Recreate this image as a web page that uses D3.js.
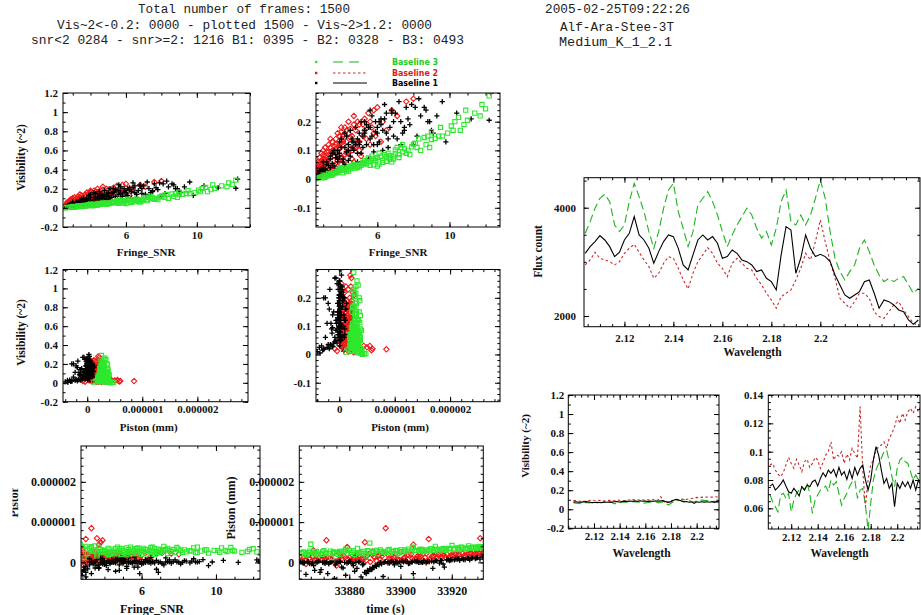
<!DOCTYPE html>
<html><head><meta charset="utf-8">
<script src="https://cdn.jsdelivr.net/npm/d3@7"></script>
<style>body{margin:0;background:#fff;}svg{display:block;}</style>
</head><body><svg id="c" width="921" height="615"></svg>
<script>
// ---------------- DATA ----------------
const headerLeft = [
  "Total number of frames: 1500",
  "Vis~2<-0.2: 0000 - plotted 1500 - Vis~2>1.2: 0000",
  "snr<2 0284 - snr>=2: 1216 B1: 0395 - B2: 0328 - B3: 0493"
];
const headerRight = ["2005-02-25T09:22:26", "Alf-Ara-Stee-3T", "Medium_K_1_2.1"];
const legendLabels = ["Baseline 3", "Baseline 2", "Baseline 1"];

// spectral channels (micron)
const wave = [2.104,2.106,2.108,2.110,2.112,2.114,2.116,2.118,2.120,2.122,2.124,2.126,2.128,2.130,2.132,2.134,2.136,2.138,2.140,2.142,2.144,2.146,2.148,2.150,2.152,2.154,2.156,2.158,2.160,2.162,2.164,2.166,2.168,2.170,2.172,2.174,2.176,2.178,2.180,2.182,2.184,2.186,2.188,2.190,2.192,2.194,2.196,2.198,2.200,2.202,2.204,2.206,2.208,2.210,2.212,2.214,2.216,2.218,2.220,2.222,2.224,2.226,2.228,2.230,2.232,2.234,2.236,2.238,2.240];
const fluxB1 = [3158,3281,3374,3484,3404,3281,3097,3177,3404,3527,3835,3497,3404,3250,2974,3189,3374,3497,3466,3250,2943,2850,3128,3404,3497,3404,3466,3343,3066,3097,3220,3158,3035,3004,2943,2820,2850,2697,2635,2481,3128,3650,3589,2789,3066,3497,3250,3097,3140,3097,3004,2758,2574,2389,2327,2389,2451,2635,2666,2420,2143,2297,2266,2204,2112,2081,1927,1847,1927];
const fluxB2 = [2943,3035,3177,3066,3035,3004,2943,3004,3158,3250,3324,3177,3035,2912,2697,2789,2974,3097,3066,2881,2666,2500,2789,3004,3128,3263,3158,2974,2881,2727,2974,3066,2974,2881,2850,2697,2574,2420,2297,2143,2358,2420,2481,2666,2881,3158,3035,3374,3774,3374,3004,2697,2327,2235,2143,2266,2420,2420,2327,2081,1989,1958,2081,2204,2266,2112,1989,1866,1835];
const fluxB3 = [3527,3743,3989,4174,4247,4112,3681,3558,3681,4112,4451,4204,3927,3558,3250,3558,3989,4327,4451,3927,3620,3281,3558,4050,4174,4297,4112,3866,3558,3281,3497,3681,3835,3989,3866,3620,3435,3558,3312,3620,4112,4327,3743,3681,3866,3681,3866,4174,4512,4174,3558,3066,2820,2666,2820,2943,3250,3404,3189,2943,2758,2635,2697,2635,2697,2728,2574,2420,2512];
const visB1 = [0.0757,0.0771,0.0729,0.0748,0.0771,0.0800,0.0757,0.0717,0.0706,0.0741,0.0717,0.0687,0.0753,0.0729,0.0764,0.0753,0.0788,0.0800,0.0757,0.0811,0.0851,0.0823,0.0870,0.0847,0.0875,0.0823,0.0889,0.0835,0.0859,0.0804,0.0870,0.0811,0.0889,0.0835,0.0882,0.0906,0.0800,0.0729,0.0800,0.0941,0.1035,0.0976,0.0870,0.0776,0.0811,0.0741,0.0776,0.0611,0.0776,0.0741,0.0788,0.0753,0.0788,0.0741,0.0800,0.0729,0.0800,0.0764];
const visB2 = [0.0906,0.0917,0.0870,0.0842,0.0823,0.0851,0.0906,0.0960,0.0917,0.0882,0.0946,0.0906,0.0859,0.0929,0.0946,0.0889,0.0917,0.0960,0.0941,0.0882,0.0922,0.0976,0.1000,0.1070,0.0941,0.0976,0.0969,0.1000,0.0917,0.0983,0.0941,0.1023,0.0988,0.0953,0.1318,0.0870,0.0611,0.0800,0.0906,0.0941,0.1012,0.1035,0.1047,0.1070,0.1023,0.1094,0.1129,0.1176,0.1247,0.1200,0.1271,0.1223,0.1282,0.1306,0.1271,0.1318,0.1282,0.1329];
const visB3 = [0.0694,0.0647,0.0611,0.0576,0.0694,0.0706,0.0670,0.0706,0.0576,0.0658,0.0706,0.0729,0.0753,0.0729,0.0776,0.0706,0.0564,0.0658,0.0694,0.0729,0.0741,0.0757,0.0717,0.0800,0.0764,0.0788,0.0706,0.0623,0.0670,0.0706,0.0753,0.0788,0.0800,0.0670,0.0729,0.0741,0.0623,0.0447,0.0635,0.0800,0.0870,0.0917,0.0953,0.1000,0.1012,0.0929,0.0823,0.0753,0.0882,0.0941,0.0960,0.0929,0.0917,0.0859,0.0800,0.0835,0.0800,0.0823];

// frames: [time (s), fringe SNR, visibility^2, piston (units of 1e-6 mm)]
const framesB1 = [
[33861.0,3.2,0.030,0.01],[33862.0,5.5,0.070,-0.02],[33863.1,2.7,0.015,-0.30],[33864.0,4.4,0.120,0.02],[33865.2,7.1,0.140,-0.03],
[33866.1,3.6,0.045,-0.08],[33867.0,6.2,0.210,0.00],[33868.1,4.9,0.060,0.03],[33869.0,2.9,0.020,-0.18],[33870.2,8.6,0.250,-0.01],
[33871.1,5.0,0.160,0.01],[33872.0,3.9,0.090,-0.04],[33873.1,6.6,0.110,0.02],[33874.2,2.6,0.010,-0.40],[33875.0,4.6,0.130,-0.01],
[33876.1,9.1,0.160,0.02],[33877.0,5.8,0.095,-0.12],[33878.2,3.4,0.070,0.00],[33879.1,7.6,0.250,-0.02],[33880.0,4.2,0.050,0.03],
[33881.2,6.0,0.180,-0.03],[33882.1,2.8,0.025,-0.22],[33883.0,5.2,0.110,-0.15],[33884.1,8.0,0.120,0.01],[33885.2,3.7,0.085,-0.06],
[33886.0,6.9,0.200,-0.25],[33887.1,4.8,0.180,-0.20],[33888.0,3.1,0.035,-0.16],[33889.2,5.6,0.140,-0.12],[33890.1,9.6,0.270,-0.08],
[33891.0,4.0,0.110,-0.05],[33892.1,6.4,0.260,0.00],[33893.2,2.5,0.005,-0.35],[33894.0,7.4,0.160,0.02],[33895.1,5.3,0.200,-0.01],
[33896.0,3.5,0.055,0.01],[33897.2,11.2,0.210,0.00],[33898.1,4.5,0.080,0.02],[33899.0,6.1,0.130,-0.02],[33900.1,3.0,0.040,-0.10],
[33901.2,8.9,0.200,0.01],[33902.0,5.1,0.090,0.03],[33903.1,4.3,0.150,-0.03],[33904.2,7.0,0.230,0.01],[33905.0,2.7,0.018,-0.28],
[33906.1,5.9,0.165,0.02],[33907.0,3.8,0.060,0.00],[33908.2,9.8,0.130,0.01],[33909.1,4.7,0.100,0.04],[33910.0,6.7,0.180,-0.01],
[33911.2,3.3,0.048,0.02],[33912.1,12.3,0.300,0.03],[33913.0,5.4,0.120,0.01],[33914.1,8.3,0.280,0.04],[33915.2,4.1,0.070,-0.02],
[33916.0,6.3,0.100,0.05],[33917.1,2.9,0.028,-0.12],[33918.0,7.8,0.190,0.06],[33919.2,5.7,0.220,0.04],[33920.1,3.6,0.100,0.07],
[33921.0,12.2,0.205,0.06],[33922.2,4.6,0.140,0.08],[33923.1,6.8,0.240,0.05],[33924.0,3.2,0.060,0.09],[33925.2,9.3,0.220,0.07],
[33926.1,5.0,0.120,0.10],[33927.0,4.4,0.065,0.06],[33928.1,7.3,0.120,0.11],[33929.2,3.9,0.130,0.09],[33930.1,6.5,0.160,0.12],
[33931.0,2.6,0.012,0.08],[33932.0,5.6,0.180,0.13],
[33861.6,4.5,0.170,0.00],[33865.6,6.5,0.230,-0.02],[33868.6,3.0,0.060,-0.25],[33872.6,7.9,0.260,0.01],[33875.6,5.3,0.170,0.02],
[33878.6,2.8,0.030,-0.32],[33882.6,8.2,0.150,0.00],[33885.6,6.0,0.120,-0.04],[33888.6,4.2,0.160,-0.18],[33891.6,7.2,0.270,-0.06],
[33895.6,3.4,0.080,-0.02],[33898.6,9.0,0.170,0.01],[33902.6,5.6,0.240,0.02],[33905.6,4.0,0.140,0.03],[33908.6,6.9,0.150,0.00],
[33912.6,3.7,0.030,-0.15],[33915.6,10.4,0.230,0.05],[33918.6,5.1,0.200,0.06],[33922.6,8.8,0.200,0.09],[33927.6,4.9,0.090,0.10],
[33862.5,3.8,0.100,-0.01],[33863.6,6.1,0.200,0.02],[33864.5,5.0,0.130,-0.03],[33866.5,2.9,0.035,-0.20],[33867.5,7.5,0.180,0.01],
[33869.6,4.3,0.095,0.00],[33870.6,5.7,0.150,-0.02],[33871.6,3.3,0.020,-0.28],[33873.6,8.4,0.220,0.03],[33874.6,4.8,0.120,-0.06],
[33876.6,6.3,0.170,0.01],[33877.6,3.5,0.090,-0.14],[33879.6,5.4,0.190,0.00],[33880.6,7.7,0.210,0.02],[33881.6,4.1,0.060,-0.08],
[33883.6,6.6,0.140,0.01],[33884.6,3.0,0.025,-0.36],[33886.6,5.9,0.200,-0.28],[33887.6,4.6,0.110,-0.22],[33888.9,6.8,0.230,-0.17],
[33889.6,3.7,0.075,-0.13],[33890.6,5.2,0.150,-0.10],[33892.6,8.1,0.250,-0.04],[33893.6,4.4,0.100,0.00],[33896.6,6.0,0.160,0.02],
[33897.6,3.2,0.050,-0.06],[33899.6,7.3,0.200,0.01],[33900.6,4.9,0.140,0.03],[33903.6,5.8,0.120,-0.02],[33904.6,3.9,0.080,0.01],
[33906.6,8.7,0.240,0.03],[33907.6,5.5,0.180,0.00],[33910.6,4.2,0.110,0.02],[33913.6,6.4,0.210,0.04],[33916.6,3.4,0.040,-0.04],
[33919.6,7.5,0.170,0.06],[33921.6,4.7,0.130,0.08],[33924.6,6.2,0.190,0.07],[33926.6,3.8,0.070,0.10],[33929.6,5.3,0.160,0.11]];
const framesB2 = [
[33861.3,3.0,0.070,0.05],[33862.2,4.2,0.060,0.12],[33863.1,2.6,0.012,-0.04],[33864.2,5.6,0.120,0.18],[33865.1,3.4,0.110,0.02],
[33866.0,2.8,0.045,0.30],[33867.2,4.7,0.190,0.08],[33868.1,3.7,0.040,0.10],[33869.0,6.8,0.240,0.21],[33870.2,2.7,0.060,0.14],
[33871.1,3.9,0.030,0.55],[33872.0,5.1,0.080,0.04],[33873.2,3.2,0.095,0.07],[33874.1,4.4,0.160,0.24],[33875.0,2.9,0.020,-0.08],
[33876.2,7.6,0.270,0.22],[33877.1,3.5,0.130,0.09],[33878.0,4.0,0.050,0.15],[33879.2,2.6,0.015,0.38],[33880.1,5.9,0.150,0.12],
[33881.0,3.3,0.030,0.03],[33882.2,4.8,0.110,0.11],[33883.1,3.1,0.080,0.20],[33884.0,6.3,0.200,0.06],[33885.2,2.8,0.035,0.10],
[33886.1,3.8,0.025,0.50],[33887.0,4.5,0.175,0.17],[33888.2,3.0,0.055,0.01],[33889.1,5.3,0.210,0.27],[33890.0,3.6,0.100,0.12],
[33891.2,2.7,0.028,0.16],[33892.1,4.1,0.140,0.08],[33893.0,7.1,0.220,0.24],[33894.2,3.3,0.018,0.85],[33895.1,4.9,0.130,0.19],
[33896.0,2.9,0.065,0.05],[33897.2,3.9,0.120,0.13],[33898.1,5.7,0.180,0.22],[33899.0,3.4,0.075,0.07],[33900.2,2.6,0.008,0.26],
[33901.1,4.3,0.090,0.10],[33902.0,6.0,0.250,0.04],[33903.2,3.1,0.022,0.18],[33904.1,8.0,0.280,0.20],[33905.0,3.7,0.030,0.44],
[33906.2,4.6,0.070,0.09],[33907.1,2.8,0.050,0.12],[33908.0,5.4,0.140,0.15],[33909.2,3.5,0.045,0.03],[33910.1,4.0,0.165,0.22],
[33911.0,3.0,0.015,0.58],[33912.2,6.5,0.170,0.14],[33913.1,3.6,0.115,0.16],[33914.0,2.7,0.040,0.11],[33915.2,4.4,0.200,0.19],
[33916.1,3.2,0.060,0.13],[33917.0,5.0,0.100,0.17],[33918.2,3.9,0.150,0.20],[33919.1,2.9,0.090,0.14],[33920.0,4.7,0.060,0.18],
[33921.2,3.4,0.140,0.21],[33922.1,5.5,0.230,0.16],[33923.0,3.1,0.110,0.19],[33924.2,4.2,0.085,0.22],[33925.1,2.6,0.030,0.17],
[33926.0,3.8,0.160,0.20],[33927.2,6.2,0.130,0.23],[33928.1,3.3,0.085,0.18],[33929.0,4.5,0.105,0.21],[33930.2,2.8,0.075,0.24],
[33931.1,3.6,0.020,0.60],[33932.0,5.2,0.190,0.22],
[33861.7,3.1,0.050,0.04],[33864.6,3.9,0.070,0.10],[33866.6,4.3,0.130,0.06],[33869.5,2.9,0.040,0.08],[33871.6,3.5,0.090,0.12],
[33874.6,4.9,0.200,0.02],[33876.7,3.2,0.025,0.15],[33879.6,4.1,0.120,0.07],[33881.6,2.7,0.035,0.11],[33884.6,5.8,0.160,0.09],
[33886.6,3.7,0.140,0.05],[33889.6,4.6,0.100,0.14],[33891.7,3.0,0.085,0.18],[33894.6,5.2,0.150,0.03],[33896.6,3.4,0.040,0.10],
[33899.6,4.0,0.180,0.06],[33901.7,2.8,0.060,0.13],[33904.6,3.6,0.050,0.09],[33906.7,4.8,0.170,0.16],[33909.6,3.3,0.120,0.12],
[33911.6,5.6,0.200,0.08],[33914.6,3.9,0.105,0.19],[33916.6,2.9,0.012,0.21],[33919.6,4.3,0.095,0.17],[33921.6,3.5,0.030,0.20],
[33924.6,5.0,0.130,0.15],[33926.7,3.1,0.070,0.22],[33928.6,4.1,0.150,0.18],[33930.6,3.7,0.090,0.23],[33931.6,2.7,0.050,0.19],
[33862.7,2.8,0.030,0.06],[33865.6,3.6,0.080,0.14],[33867.7,4.6,0.150,0.03],[33870.6,3.0,0.100,0.09],[33872.6,4.2,0.180,0.11],
[33875.6,3.4,0.025,0.05],[33877.6,2.7,0.010,0.17],[33880.6,3.9,0.110,0.02],[33882.6,5.0,0.190,0.13],[33885.6,3.2,0.065,0.08],
[33887.6,4.4,0.090,0.20],[33890.6,2.9,0.050,0.04],[33892.6,3.7,0.120,0.15],[33895.6,4.7,0.220,0.10],[33897.6,3.1,0.030,0.12],
[33900.6,4.0,0.075,0.06],[33902.6,5.3,0.170,0.18],[33905.6,2.8,0.018,0.09],[33907.6,3.5,0.100,0.14],[33910.6,4.5,0.145,0.05],
[33912.6,3.0,0.045,0.16],[33915.6,3.8,0.065,0.21],[33917.6,5.8,0.240,0.12],[33920.6,2.7,0.022,0.18],[33922.6,4.1,0.130,0.20],
[33925.6,3.3,0.095,0.15],[33927.6,4.8,0.115,0.23],[33929.6,3.0,0.060,0.20],[33930.9,4.3,0.170,0.22],[33932.1,3.5,0.040,0.25]];
const framesB3 = [
[33861.2,3.1,0.012,0.22],[33862.1,5.4,0.052,0.26],[33863.0,4.2,0.030,0.19],[33864.1,7.8,0.085,0.24],[33865.0,2.7,0.004,0.45],
[33866.2,6.3,0.066,0.21],[33867.1,3.8,0.022,0.27],[33868.0,9.6,0.150,0.23],[33869.2,4.9,0.045,0.20],[33870.1,3.3,0.018,0.29],
[33871.0,6.9,0.080,0.25],[33872.2,5.7,0.070,0.22],[33873.1,2.9,0.008,0.12],[33874.0,8.4,0.100,0.26],[33875.1,4.5,0.036,0.24],
[33876.2,10.6,0.170,0.27],[33877.0,3.6,0.026,0.21],[33878.1,7.2,0.075,0.28],[33879.2,5.1,0.048,0.23],[33880.0,4.0,0.040,0.30],
[33881.1,11.4,0.230,0.25],[33882.0,6.0,0.045,0.20],[33883.2,3.2,0.010,0.35],[33884.1,8.9,0.110,0.24],[33885.0,5.6,0.060,0.27],
[33886.2,4.4,0.028,0.22],[33887.1,7.5,0.105,0.29],[33888.0,2.6,0.002,0.48],[33889.1,6.6,0.074,0.24],[33890.2,9.2,0.142,0.28],
[33891.0,4.7,0.050,0.21],[33892.1,3.5,0.020,0.31],[33893.2,12.2,0.290,0.26],[33894.0,5.9,0.064,0.25],[33895.1,8.1,0.125,0.30],
[33896.0,4.1,0.032,0.23],[33897.2,6.4,0.085,0.27],[33898.1,10.1,0.185,0.29],[33899.0,3.0,0.014,0.22],[33900.1,7.0,0.088,0.31],
[33901.2,5.3,0.055,0.26],[33902.0,11.0,0.205,0.28],[33903.1,4.3,0.034,0.33],[33904.2,6.8,0.060,0.27],[33905.0,2.8,0.006,0.38],
[33906.1,9.9,0.160,0.30],[33907.0,5.0,0.042,0.29],[33908.2,7.7,0.100,0.32],[33909.1,3.9,0.030,0.27],[33910.0,6.2,0.080,0.31],
[33911.2,8.6,0.145,0.29],[33912.1,4.6,0.044,0.34],[33913.0,10.9,0.240,0.30],[33914.1,5.5,0.062,0.33],[33915.2,3.4,0.016,0.28],
[33916.0,7.3,0.110,0.32],[33917.1,6.1,0.052,0.35],[33918.0,9.4,0.150,0.31],[33919.2,4.8,0.046,0.34],[33920.1,2.5,0.000,0.42],
[33921.0,8.0,0.122,0.33],[33922.2,5.8,0.066,0.36],[33923.1,11.8,0.260,0.32],[33924.0,3.7,0.024,0.37],[33925.2,6.7,0.082,0.34],
[33926.1,10.3,0.200,0.36],[33927.0,4.2,0.038,0.35],[33928.1,7.9,0.112,0.37],[33929.2,5.2,0.054,0.36],[33930.1,9.0,0.138,0.38],
[33931.0,6.5,0.078,0.37],[33932.0,3.3,0.020,0.39],
[33861.6,4.6,0.040,0.24],[33863.5,6.7,0.070,0.20],[33864.6,3.4,0.015,0.28],[33866.6,8.2,0.110,0.25],[33867.6,5.2,0.058,0.19],
[33869.6,3.9,0.034,0.26],[33870.6,7.4,0.095,0.22],[33872.7,5.8,0.050,0.28],[33873.6,9.0,0.165,0.24],[33875.6,4.3,0.026,0.20],
[33877.6,6.1,0.090,0.27],[33878.6,3.1,0.006,0.33],[33880.6,10.2,0.170,0.25],[33881.6,4.8,0.038,0.29],[33883.6,7.0,0.102,0.24],
[33884.6,5.5,0.074,0.22],[33886.6,3.6,0.018,0.16],[33887.6,8.7,0.120,0.28],[33889.6,4.5,0.046,0.26],[33890.6,6.5,0.062,0.30],
[33892.6,11.7,0.220,0.27],[33893.6,5.0,0.052,0.25],[33895.6,3.8,0.028,0.32],[33896.6,7.6,0.090,0.27],[33898.6,6.0,0.075,0.30],
[33899.6,4.1,0.022,0.26],[33901.6,9.5,0.180,0.31],[33902.6,5.6,0.048,0.28],[33904.6,3.3,0.012,0.36],[33905.6,7.1,0.110,0.29],
[33907.6,5.3,0.065,0.32],[33908.6,10.5,0.215,0.30],[33910.6,4.4,0.042,0.28],[33911.6,6.9,0.070,0.33],[33913.6,3.0,0.004,0.40],
[33914.6,8.3,0.140,0.31],[33916.6,5.7,0.080,0.34],[33917.6,4.0,0.036,0.30],[33919.6,7.4,0.120,0.35],[33920.6,6.3,0.058,0.32],
[33922.6,12.0,0.245,0.34],[33923.6,4.7,0.050,0.38],[33925.6,5.9,0.072,0.33],[33926.6,3.5,0.014,0.41],[33927.6,8.8,0.150,0.36],
[33928.6,6.6,0.090,0.38],[33929.6,4.9,0.040,0.35],[33930.6,7.2,0.085,0.40],[33931.6,10.8,0.190,0.37],[33932.2,5.4,0.060,0.38]];

// tick labels
const snrTicks = [6, 10];
const visTicks = [-0.2, 0, 0.2, 0.4, 0.6, 0.8, 1, 1.2];
const visZoomTicks = [-0.1, 0, 0.1, 0.2];
const pistonTicks = [0, 1, 2];          // x 1e-6 mm
const timeTicks = [33880, 33900, 33920];
const waveTicks = [2.12, 2.14, 2.16, 2.18, 2.2];
const fluxTicks = [2000, 4000];
const visSpecTicks = [0.06, 0.08, 0.1, 0.12, 0.14];

// ---------------- DRAWING ----------------
const svg = d3.select("#c");
const defs = svg.append("defs");
const FONT = "'Liberation Serif', serif";
const MONO = "'Liberation Mono', monospace";
const C = {b1: "#000000", b2: "#ee1c1c", b3: "#2ee82e"};
const LC = {b1: "#000000", b2: "#c82828", b3: "#1eb41e"};
let clipN = 0;

const minor = (a, b, s) => d3.range(Math.ceil(a / s - 1e-9), Math.floor(b / s + 1e-9) + 1).map(k => +(k * s).toFixed(8));
const fmt = d => String(+d.toFixed(6));
const fmtP = d => d === 0 ? "0" : (d * 1e-6).toFixed(6);

function makePanel(c) {
  const x = d3.scaleLinear().domain(c.xd).range([c.x0, c.x1]);
  const y = d3.scaleLinear().domain(c.yd).range([c.y1, c.y0]);
  const id = "cl" + (++clipN);
  defs.append("clipPath").attr("id", id).append("rect")
    .attr("x", c.x0).attr("y", c.y0).attr("width", c.x1 - c.x0).attr("height", c.y1 - c.y0);
  const plot = svg.append("g").attr("clip-path", `url(#${id})`);
  return {x, y, plot, c};
}

function drawAxes(P) {
  const {x, y, c} = P;
  const g = svg.append("g");
  const fs = c.fs || 11;
  const style = sel => {
    sel.select(".domain").remove();
    sel.selectAll("line").attr("stroke", "#000").attr("stroke-width", 1);
    sel.selectAll("text").attr("font-family", FONT).attr("font-size", fs).attr("fill", "#111").attr("font-weight", "bold");
  };
  const M = 5, m = 2.6;
  const xm = minor(c.xd[0], c.xd[1], c.xs), ym = minor(c.yd[0], c.yd[1], c.ys);
  g.append("g").attr("transform", `translate(0,${c.y1})`)
    .call(d3.axisBottom(x).tickValues(c.xt).tickSize(-M).tickPadding(c.xpad).tickFormat(c.xf)).call(style);
  g.append("g").attr("transform", `translate(0,${c.y1})`)
    .call(d3.axisBottom(x).tickValues(xm).tickSize(-m).tickFormat("")).call(style);
  g.append("g").attr("transform", `translate(0,${c.y0})`)
    .call(d3.axisTop(x).tickValues(c.xt).tickSize(-M).tickFormat("")).call(style);
  g.append("g").attr("transform", `translate(0,${c.y0})`)
    .call(d3.axisTop(x).tickValues(xm).tickSize(-m).tickFormat("")).call(style);
  g.append("g").attr("transform", `translate(${c.x0},0)`)
    .call(d3.axisLeft(y).tickValues(c.yt).tickSize(-M).tickPadding(c.ypad).tickFormat(c.yf)).call(style);
  g.append("g").attr("transform", `translate(${c.x0},0)`)
    .call(d3.axisLeft(y).tickValues(ym).tickSize(-m).tickFormat("")).call(style);
  g.append("g").attr("transform", `translate(${c.x1},0)`)
    .call(d3.axisRight(y).tickValues(c.yt).tickSize(-M).tickFormat("")).call(style);
  g.append("g").attr("transform", `translate(${c.x1},0)`)
    .call(d3.axisRight(y).tickValues(ym).tickSize(-m).tickFormat("")).call(style);
  g.append("rect").attr("x", c.x0).attr("y", c.y0).attr("width", c.x1 - c.x0).attr("height", c.y1 - c.y0)
    .attr("fill", "none").attr("stroke", "#000").attr("stroke-width", 1);
}

function label(txt, x, y, rot, size, opts = {}) {
  const parent = opts.parent || svg;
  const t = parent.append("text").text(txt)
    .attr("font-family", opts.family || FONT).attr("font-size", size)
    .attr("fill", opts.fill || "#111").attr("text-anchor", "middle").attr("dominant-baseline", "central")
    .attr("font-weight", opts.weight || "bold")
    .attr("transform", `translate(${x},${y}) rotate(${rot})`);
  if (opts.len) t.attr("textLength", opts.len).attr("lengthAdjust", "spacingAndGlyphs");
  return t;
}

const SHAPE = {
  b1: "M-2.6,0H2.6M0,-2.6V2.6",
  b2: "M0,-2.7L2.7,0L0,2.7L-2.7,0Z",
  b3: "M-2.1,-2.1H2.1V2.1H-2.1Z"
};
function scatter(P, fx, fy) {
  const sets = [["b2", framesB2], ["b1", framesB1], ["b3", framesB3]];
  sets.forEach(([k, arr]) => {
    P.plot.append("g").selectAll("path").data(arr).join("path")
      .attr("transform", d => `translate(${P.x(fx(d))},${P.y(fy(d))})`)
      .attr("d", SHAPE[k]).attr("fill", "none").attr("stroke", C[k])
      .attr("stroke-width", k === "b1" ? 1.3 : 1.1);
  });
}
const DASH = {b1: null, b2: "2.5,2.5", b3: "8,4"};
function lines(P, xs, series) {
  series.forEach(([k, vals]) => {
    const line = d3.line().x((d, i) => P.x(xs[i])).y(d => P.y(d));
    P.plot.append("path").datum(vals).attr("d", line).attr("fill", "none")
      .attr("stroke", LC[k]).attr("stroke-width", 1.1).attr("stroke-dasharray", DASH[k]);
  });
}

// accessors
const T = d => d[0], S = d => d[1], V = d => d[2], Pz = d => d[3];

// panel configs (layout)
const cfg = {
  p1: {x0: 63, x1: 250, y0: 93, y1: 227, xd: [2.45, 13], yd: [-0.2, 1.2], xt: snrTicks, yt: visTicks, xs: 1, ys: 0.1, xf: fmt, yf: fmt, xpad: 4, ypad: 5},
  p2: {x0: 316, x1: 500, y0: 93, y1: 227, xd: [2.6, 12.8], yd: [-0.167, 0.3], xt: snrTicks, yt: visZoomTicks, xs: 1, ys: 0.02, xf: fmt, yf: fmt, xpad: 4, ypad: 5},
  p3: {x0: 63, x1: 248, y0: 269.5, y1: 401.7, xd: [-0.44, 2.92], yd: [-0.2, 1.2], xt: pistonTicks, yt: visTicks, xs: 0.2, ys: 0.1, xf: fmtP, yf: fmt, xpad: 4, ypad: 5},
  p4: {x0: 316, x1: 500, y0: 269.5, y1: 401.7, xd: [-0.42, 2.9], yd: [-0.167, 0.3], xt: pistonTicks, yt: visZoomTicks, xs: 0.2, ys: 0.02, xf: fmtP, yf: fmt, xpad: 4, ypad: 5},
  p5: {x0: 81, x1: 260, y0: 446, y1: 579.3, xd: [2.74, 12.37], yd: [-0.42, 2.89], xt: snrTicks, yt: pistonTicks, xs: 1, ys: 0.2, xf: fmt, yf: fmtP, xpad: 7, ypad: 5, fs: 12},
  p6: {x0: 299.3, x1: 483.3, y0: 446, y1: 579.3, xd: [33860.5, 33932.3], yd: [-0.42, 2.89], xt: timeTicks, yt: pistonTicks, xs: 5, ys: 0.2, xf: fmt, yf: fmtP, xpad: 7, ypad: 5, fs: 12},
  p7: {x0: 584, x1: 920, y0: 177.7, y1: 326.7, xd: [2.1035, 2.2407], yd: [1803, 4554], xt: waveTicks, yt: fluxTicks, xs: 0.005, ys: 500, xf: fmt, yf: fmt, xpad: 8, ypad: 8},
  p8: {x0: 568.3, x1: 719, y0: 395, y1: 528.3, xd: [2.1, 2.2174], yd: [-0.2, 1.2], xt: waveTicks, yt: visTicks, xs: 0.005, ys: 0.1, xf: fmt, yf: fmt, xpad: 4, ypad: 4},
  p9: {x0: 768.3, x1: 920, y0: 395, y1: 529, xd: [2.1027, 2.2172], yd: [0.0454, 0.14], xt: waveTicks, yt: visSpecTicks, xs: 0.005, ys: 0.005, xf: fmt, yf: fmt, xpad: 4, ypad: 5}
};

const P1 = makePanel(cfg.p1); scatter(P1, S, V); drawAxes(P1);
const P2 = makePanel(cfg.p2); scatter(P2, S, V); drawAxes(P2);
const P3 = makePanel(cfg.p3); scatter(P3, Pz, V); drawAxes(P3);
const P4 = makePanel(cfg.p4); scatter(P4, Pz, V); drawAxes(P4);
const P5 = makePanel(cfg.p5); scatter(P5, S, Pz); drawAxes(P5);
const P6 = makePanel(cfg.p6); scatter(P6, T, Pz); drawAxes(P6);
const P7 = makePanel(cfg.p7); lines(P7, wave, [["b2", fluxB2], ["b3", fluxB3], ["b1", fluxB1]]); drawAxes(P7);
const P8 = makePanel(cfg.p8); lines(P8, wave, [["b3", visB3], ["b2", visB2], ["b1", visB1]]); drawAxes(P8);
const P9 = makePanel(cfg.p9); lines(P9, wave, [["b3", visB3], ["b2", visB2], ["b1", visB1]]); drawAxes(P9);

// axis titles
label("Visibility  (~2)", 21, 157.5, -90, 11.5);
label("Visibility  (~2)", 21, 332.5, -90, 11.5);
label("Fringe_SNR", 146, 251.5, 0, 11);
label("Fringe_SNR", 398, 251.5, 0, 11);
label("Piston  (mm)", 148.7, 426.7, 0, 11);
label("Piston  (mm)", 400, 426.7, 0, 11);
label("Fringe_SNR", 152, 609, 0, 12);
label("time  (s)", 385.5, 609, 0, 12);
label("Piston  (mm)", 231, 508, -90, 12);
// partially hidden y title of the bottom-left panel
defs.append("clipPath").attr("id", "clipL").append("rect").attr("x", 12.5).attr("y", 488).attr("width", 10).attr("height", 32);
const gL = svg.append("g").attr("clip-path", "url(#clipL)");
label("Piston  (mm)", 14, 486, -90, 12, {parent: gL});
label("Flux  count", 537.5, 251.5, -90, 11.5);
label("Wavelength", 752.5, 351.7, 0, 11.5);
label("Visibility  (~2)", 525, 446, -90, 11);
label("Wavelength", 641.5, 553.3, 0, 11.5);
label("Wavelength", 839.5, 553.3, 0, 11.5);

// headers
const hlW = [212, 375, 433], hlX = [244, 244.5, 247.5], hlY = [10, 26, 41];
headerLeft.forEach((t, i) => label(t, hlX[i], hlY[i], 0, 12.5, {family: MONO, len: hlW[i], fill: "#222", weight: "normal"}));
const hrW = [145, 114, 113], hrX = [617.5, 617, 615.5], hrY = [10, 28, 43];
headerRight.forEach((t, i) => label(t, hrX[i], hrY[i], 0, 12.5, {family: MONO, len: hrW[i], fill: "#222", weight: "normal"}));

// legend
const legKeys = ["b3", "b2", "b1"], legY = [62, 73, 83];
legKeys.forEach((k, i) => {
  svg.append("rect").attr("x", 315).attr("y", legY[i] - 1.2).attr("width", 2.4).attr("height", 2.4).attr("fill", C[k]);
  svg.append("line").attr("x1", 333).attr("x2", k === "b3" ? 363 : 367).attr("y1", legY[i]).attr("y2", legY[i])
    .attr("stroke", LC[k]).attr("stroke-width", 1.1).attr("stroke-dasharray", k === "b3" ? "10,6" : DASH[k]);
  label(legendLabels[i], 415, legY[i], 0, 8, {family: "'DejaVu Sans', sans-serif", weight: "bold", len: 46, fill: k === "b3" ? "#22cc22" : (k === "b2" ? "#dd1a1a" : "#000")});
});
</script></body></html>
